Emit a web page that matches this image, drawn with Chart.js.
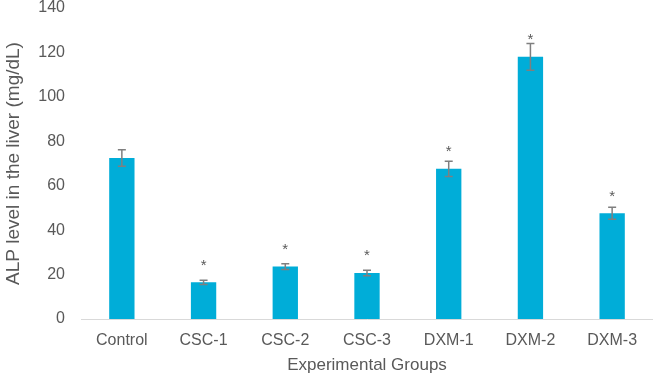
<!DOCTYPE html>
<html>
<head>
<meta charset="utf-8">
<script src="https://cdn.jsdelivr.net/npm/chart.js@4"></script>
<style>
  body { margin: 0; background: #fff; }
  #wrap { width: 653px; height: 379px; }
</style>
</head>
<body>
<div id="wrap"><canvas id="barChart" width="653" height="379"></canvas></div>
<script>
const groups = ["Control", "CSC-1", "CSC-2", "CSC-3", "DXM-1", "DXM-2", "DXM-3"];
const alpLevels = [72.5, 16.5, 23.6, 20.7, 67.6, 118.0, 47.6];
const errors = [3.7, 1.0, 1.3, 1.2, 3.4, 6.0, 2.7];
// height (in mg/dL) where the significance star sits, null = none
const starLevels = [null, 26.3, 33.3, 30.6, 77.5, 128, 57.2];

const textColor = "#595959";
const fontFamily = "'Liberation Sans', Arial, sans-serif";

// error bars and asterisks on top of the bars
const errorBarPlugin = {
  id: "errorBars",
  afterDatasetsDraw(chart) {
    const ctx = chart.ctx;
    const y = chart.scales.y;
    const meta = chart.getDatasetMeta(0);
    ctx.save();
    ctx.strokeStyle = "#7f7f7f";
    ctx.lineWidth = 1.5;
    meta.data.forEach((bar, i) => {
      const top = y.getPixelForValue(alpLevels[i] + errors[i]);
      const bottom = y.getPixelForValue(alpLevels[i] - errors[i]);
      ctx.beginPath();
      ctx.moveTo(bar.x, top);
      ctx.lineTo(bar.x, bottom);
      ctx.moveTo(bar.x - 4, top);
      ctx.lineTo(bar.x + 4, top);
      ctx.moveTo(bar.x - 4, bottom);
      ctx.lineTo(bar.x + 4, bottom);
      ctx.stroke();
      if (starLevels[i] !== null) {
        ctx.fillStyle = textColor;
        ctx.font = "15px " + fontFamily;
        ctx.textAlign = "center";
        ctx.textBaseline = "alphabetic";
        ctx.fillText("*", bar.x, y.getPixelForValue(starLevels[i]) + 9);
      }
    });
    ctx.restore();
  }
};

new Chart(document.getElementById("barChart"), {
  type: "bar",
  data: {
    labels: groups,
    datasets: [{
      data: alpLevels,
      backgroundColor: "#00ADD8",
      categoryPercentage: 1,
      barPercentage: 0.31
    }]
  },
  options: {
    responsive: false,
    animation: false,
    layout: { padding: { top: 8, left: 0, right: 0, bottom: 0 } },
    plugins: { legend: { display: false }, tooltip: { enabled: false } },
    scales: {
      x: {
        grid: { display: false, drawTicks: false },
        border: { display: true, color: "#d9d9d9", width: 1 },
        ticks: {
          color: textColor,
          padding: 12,
          font: { family: fontFamily, size: 16 }
        },
        title: {
          display: true,
          text: "Experimental Groups",
          color: textColor,
          padding: { top: 4, bottom: 3 },
          font: { family: fontFamily, size: 17 }
        },
        afterFit(axis) { axis.height = 60; }
      },
      y: {
        min: 0,
        max: 140,
        grid: { display: false, drawTicks: false },
        border: { display: false },
        ticks: {
          stepSize: 20,
          color: textColor,
          padding: 16,
          font: { family: fontFamily, size: 16 }
        },
        title: {
          display: true,
          text: "ALP level in the liver (mg/dL)",
          color: textColor,
          padding: { top: 2, bottom: 2 },
          font: { family: fontFamily, size: 19 }
        },
        afterFit(axis) {
          axis.width = 81;
          axis.paddingTop = 0;
          axis.paddingBottom = 0;
        }
      }
    }
  },
  plugins: [errorBarPlugin]
});
</script>
</body>
</html>
